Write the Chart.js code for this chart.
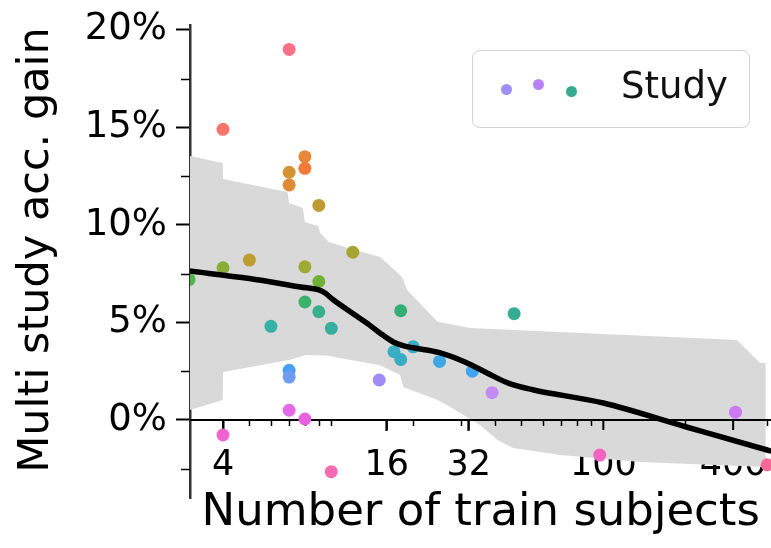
<!DOCTYPE html>
<html>
<head>
<meta charset="utf-8">
<script src="https://cdn.jsdelivr.net/npm/chart.js@4/dist/chart.umd.min.js"></script>
<style>
  html, body { margin: 0; padding: 0; background: #fff; overflow: hidden; }
  #wrap { position: relative; width: 771px; height: 548px; overflow: hidden; }
  #chart { position: absolute; left: 0; top: 0; }
  #legend {
    position: absolute; left: 472px; top: 50px; width: 276px; height: 76px;
    border: 1.5px solid #d2d2d2; border-radius: 8px; background: rgba(255,255,255,0.85);
    font-family: "DejaVu Sans", sans-serif; font-size: 37px; color: #111;
  }
  #legend .dot { position: absolute; width: 11px; height: 11px; border-radius: 50%; }
  #legend .txt { position: absolute; left: 148px; top: 13px; }
</style>
</head>
<body>
<div id="wrap">
  <!-- a little wider than the window: the plot runs right up to the edge -->
  <canvas id="chart" width="778" height="548"></canvas>
  <div id="legend">
    <span class="dot" style="left:28px;top:33px;background:#9d8ff5"></span>
    <span class="dot" style="left:60px;top:28px;background:#b882f5"></span>
    <span class="dot" style="left:93px;top:35px;background:#36ab8f"></span>
    <span class="txt">Study</span>
  </div>
</div>
<script>
// scatter points: train subjects vs multi-study accuracy gain (%)
const pointX = [7, 4, 8, 8, 7, 7, 9, 5, 12, 4, 3.0, 8, 9, 8, 9, 6, 10, 7, 7, 7, 8, 4, 10,
                15, 18, 47, 17, 18, 20, 25, 33, 39, 97, 306, 400];
const pointY = [19.0, 14.9, 13.5, 12.9, 12.7, 12.05, 11.0, 8.2, 8.6, 7.8, 7.2, 7.85, 7.1, 6.05, 5.55, 4.8, 4.7, 2.55, 2.2, 0.5, 0.05, -0.77, -2.65,
                2.05, 5.6, 5.45, 3.5, 3.1, 3.75, 3.0, 2.5, 1.4, -1.8, 0.4, -2.3];
const pointColors = ['#f77189', '#f7756b', '#e8873a', '#f27b3a', '#d39433', '#e08a36', '#bf9a31', '#bb9d32', '#a6a532', '#89ad37', '#4fb548', '#9dab34',
                     '#72b134', '#3bb26c', '#38b08c', '#37b0a8', '#37ae9e', '#4a9ff2', '#6e9cf2', '#e36ae8', '#e462dc', '#f064d2', '#f56cb3',
                     '#a08cf5', '#33b076', '#36ad93', '#3aafc2', '#39abc4', '#3aacc6', '#3ea7e2', '#41a4ee', '#c48af5', '#f463c0', '#cc7af4', '#f66a9a'];

// smoothed trend
const trendX = [3.0, 5, 7.7, 9.0, 9.4, 10.2, 12, 13.5, 15, 16.9, 18.5, 20, 25, 31, 37.5, 44.5, 55, 100, 202, 400, 415];
const trendY = [7.64, 7.25, 6.82, 6.67, 6.55, 6.15, 5.46, 4.97, 4.49, 4.0, 3.8, 3.7, 3.45, 2.97, 2.4, 1.9, 1.55, 0.87, -0.36, -1.54, -1.6];

// confidence band, upper edge left->right, lower edge right->left
const bandUpperX = [3.025, 3.99, 4.0, 6.9, 7.0, 7.86, 8.0, 8.95, 9.1, 9.8, 12.2, 15.1, 16.3, 18.2, 19.0, 24.6, 32.4, 310, 377, 395];
const bandUpperY = [13.54, 13.18, 12.36, 11.69, 11.13, 10.87, 10.15, 9.95, 9.6, 9.13, 8.72, 8.36, 7.95, 7.33, 6.67, 5.03, 4.72, 4.10, 2.92, 2.92];
const bandLowerX = [395, 137, 69.5, 46.6, 40.8, 35.2, 26.6, 24.6, 18.4, 17.9, 15.1, 9.6, 8.1, 7.0, 4.0, 3.99, 3.025];
const bandLowerY = [-2.41, -2.15, -1.8, -1.44, -1.03, -0.26, 0.77, 1.03, 1.69, 2.3, 2.8, 3.3, 3.33, 3.08, 2.46, 1.03, 0.51];

const xTickValues = [4, 16, 32, 100, 300];
const xTickLabels = ['4', '16', '32', '100', '400'];
const xMinorTicks = [5, 6, 7, 8, 9, 10, 20, 30, 40, 50, 60, 70, 80, 90, 200, 400];
const yTickValues = [0, 5, 10, 15, 20];
const yMinorTicks = [-2.5, 2.5, 7.5, 12.5, 17.5];
const yTitle = 'Multi study acc. gain';

const FONT = '"DejaVu Sans", sans-serif';

const toXY = (xs, ys) => xs.map((x, i) => ({x: x, y: ys[i]}));
const bandPoints = toXY(bandUpperX, bandUpperY).concat(toXY(bandLowerX, bandLowerY));

// x axis sits at y=0 and has to stay visible on top of the grey band
const axisOverBand = {
  id: 'axisOverBand',
  afterDatasetDraw(chart, args) {
    if (args.index !== 2) return;
    const {ctx, chartArea, scales: {x, y}} = chart;
    const y0 = y.getPixelForValue(0);
    ctx.save();
    ctx.strokeStyle = '#000';
    ctx.lineWidth = 2;
    ctx.beginPath();
    ctx.moveTo(chartArea.left, y0);
    ctx.lineTo(chartArea.right, y0);
    xTickValues.forEach(v => {
      const px = x.getPixelForValue(v);
      ctx.moveTo(px, y0);
      ctx.lineTo(px, y0 + 10);
    });
    ctx.stroke();
    ctx.lineWidth = 1.5;
    ctx.beginPath();
    xMinorTicks.forEach(v => {
      const px = Math.round(x.getPixelForValue(v)) + 0.5;
      ctx.moveTo(px, y0);
      ctx.lineTo(px, y0 + 6);
    });
    yMinorTicks.forEach(v => {
      const py = Math.round(y.getPixelForValue(v)) + 0.5;
      ctx.moveTo(chartArea.left - 9, py);
      ctx.lineTo(chartArea.left, py);
    });
    ctx.stroke();
    ctx.restore();
  },
  afterDraw(chart) {
    // y title drawn by hand so it can sit a bit above the plot centre, as in the source
    const {ctx} = chart;
    ctx.save();
    ctx.translate(37, 250);
    ctx.rotate(-Math.PI / 2);
    ctx.font = '43px ' + FONT;
    ctx.fillStyle = '#000';
    ctx.textAlign = 'center';
    ctx.textBaseline = 'middle';
    ctx.fillText(yTitle, 0, 0);
    ctx.restore();
  }
};

new Chart(document.getElementById('chart'), {
  type: 'scatter',
  data: {
    datasets: [
      {
        data: toXY(trendX, trendY),
        showLine: true,
        borderColor: '#000',
        borderWidth: 5.5,
        pointRadius: 0,
        cubicInterpolationMode: 'monotone',
        order: 0
      },
      {
        data: toXY(pointX, pointY),
        backgroundColor: pointColors,
        borderWidth: 0,
        pointRadius: 6.5,
        order: 1
      },
      {
        data: bandPoints,
        showLine: true,
        borderWidth: 0,
        borderColor: 'rgba(0,0,0,0)',
        backgroundColor: '#d9d9d9',
        fill: 'shape',
        pointRadius: 0,
        order: 2
      }
    ]
  },
  options: {
    responsive: false,
    animation: false,
    events: [],
    layout: { padding: { left: 0, right: 0, top: 25, bottom: 50 } },
    plugins: { legend: { display: false }, tooltip: { enabled: false } },
    scales: {
      x: {
        type: 'logarithmic',
        min: 3.025,
        max: 415,
        position: { y: 0 },
        afterBuildTicks: s => { s.ticks = xTickValues.map(v => ({value: v})); },
        afterFit: s => { s.paddingLeft = 0; s.paddingRight = 0; },
        ticks: {
          callback: (v, i) => xTickLabels[i],
          autoSkip: false,
          maxRotation: 0,
          padding: 18,
          color: '#000',
          font: { family: FONT, size: 35, lineHeight: 1 }
        },
        grid: { drawOnChartArea: false, tickLength: 10, tickWidth: 2, tickColor: '#000' },
        border: { color: '#000', width: 2 },
        title: {
          display: true,
          text: 'Number of train subjects',
          color: '#000',
          font: { family: FONT, size: 45, lineHeight: 0.5 },
          padding: { top: 1, bottom: 0 }
        }
      },
      y: {
        type: 'linear',
        min: -4,
        max: 20.25,
        afterBuildTicks: s => { s.ticks = yTickValues.map(v => ({value: v})); },
        afterFit: s => { s.width = 190; s.paddingTop = 0; s.paddingBottom = 0; },
        ticks: {
          callback: v => v + '%',
          padding: 9,
          color: '#000',
          font: { family: FONT, size: 37 }
        },
        grid: { drawOnChartArea: false, tickLength: 14, tickWidth: 2, tickColor: '#000' },
        border: { color: '#333', width: 2.5 }
      }
    }
  },
  plugins: [axisOverBand]
});
</script>
</body>
</html>
